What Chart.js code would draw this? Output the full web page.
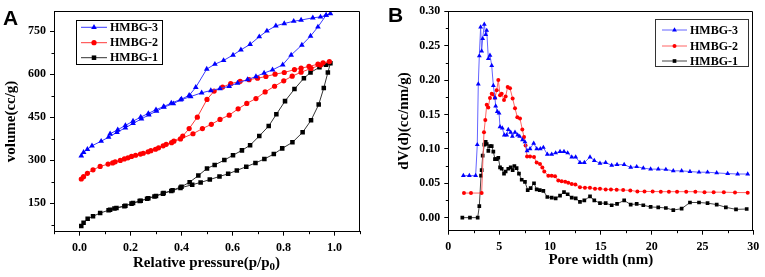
<!DOCTYPE html>
<html><head><meta charset="utf-8">
<script src="https://cdn.jsdelivr.net/npm/chart.js@4"></script>
<style>
html,body{margin:0;padding:0;background:#fff;}
#wrap{position:relative;width:765px;height:277px;overflow:hidden;background:#fff;}
.pane{position:absolute;top:0;height:277px;}
</style></head><body>
<div id="wrap">
<div class="pane" style="left:0;width:383px"><canvas id="ca" width="383" height="277"></canvas></div>
<div class="pane" style="left:383px;width:382px"><canvas id="cb" width="382" height="277"></canvas></div>
</div>
<script>
// ---------- Panel A: N2 isotherms (adsorption then desorption) ----------
const seriesNames = ['HMBG-3', 'HMBG-2', 'HMBG-1'];

const hmbg3P = [0.007,0.016,0.031,0.049,0.085,0.114,0.147,0.18,0.21,0.243,0.272,0.302,0.331,0.368,0.396,0.436,0.479,0.515,0.551,0.587,0.62,0.659,0.692,0.724,0.757,0.797,0.83,0.872,0.906,0.935,0.967,0.984,
  0.967,0.945,0.915,0.869,0.84,0.803,0.77,0.735,0.705,0.669,0.633,0.602,0.565,0.531,0.499,0.456,0.43,0.4,0.36,0.33,0.3,0.27,0.24,0.21,0.18,0.15,0.12];
const hmbg3V = [315,327,338,350,366,380,397,413,428,444,458,471,485,497,510,522,535,543,550,558,569,581,592,604,615,633,667,702,733,765,806,812,
  806,800,797,789,785,777,769,751,731,704,685,667,648,635,618,554,526,513,499,487,476,463,450,436,421,406,392];

const hmbg2P = [0.007,0.016,0.031,0.053,0.081,0.112,0.14,0.176,0.204,0.239,0.269,0.298,0.328,0.361,0.396,0.445,0.482,0.517,0.551,0.587,0.622,0.656,0.692,0.728,0.765,0.801,0.834,0.869,0.908,0.945,0.98,
  0.955,0.935,0.9,0.869,0.843,0.803,0.767,0.731,0.698,0.665,0.63,0.593,0.561,0.528,0.5,0.462,0.43,0.405,0.37,0.34,0.31,0.28,0.25,0.22,0.19,0.16,0.13];
const hmbg2V = [234,242,254,266,278,286,294,304,313,321,329,338,350,361,374,392,410,425,442,457,479,498,515,538,558,577,593,607,620,632,644,
  640,635,627,621,616,606,600,592,586,581,575,567,555,541,512,450,410,384,366,355,343,333,324,317,308,299,290];

const hmbg1P = [0.007,0.016,0.032,0.053,0.081,0.114,0.137,0.176,0.204,0.236,0.265,0.294,0.327,0.36,0.396,0.442,0.475,0.511,0.549,0.583,0.617,0.654,0.69,0.725,0.762,0.795,0.835,0.875,0.908,0.938,0.958,0.974,0.984,
  0.967,0.941,0.906,0.88,0.843,0.806,0.772,0.742,0.705,0.669,0.637,0.602,0.568,0.53,0.5,0.466,0.432,0.4,0.365,0.33,0.3,0.27,0.24,0.21,0.18,0.145,0.12];
const hmbg1V = [70,81,95,104,115,125,131,139,148,157,165,173,183,192,203,214,222,232,243,252,264,277,290,304,321,341,362,397,439,494,552,606,638,
  633,624,606,586,548,506,460,419,384,352,334,317,300,283,271,246,223,207,195,185,175,167,158,150,141,133,127];

const isoXTicks = [0.0, 0.2, 0.4, 0.6, 0.8, 1.0];
const isoYTicks = [150, 300, 450, 600, 750];
const isoXMinor = [-0.1, 0.1, 0.3, 0.5, 0.7, 0.9, 1.1];
const isoYMinor = [75, 225, 375, 525, 675];

// ---------- Panel B: pore size distribution ----------
const pore3W = [1.48,2.07,2.69,2.85,2.95,3.05,3.18,3.28,3.38,3.54,3.68,3.78,3.94,4.1,4.27,4.43,4.59,4.66,4.82,4.99,5.09,5.31,5.51,5.74,5.9,6.14,6.3,6.56,6.82,7.02,7.3,7.54,7.75,8.04,8.4,8.7,9.05,9.35,9.74,10.17,10.56,10.99,11.38,11.74,12.14,12.53,12.95,13.38,13.94,14.36,14.92,15.48,16.07,16.6,17.3,17.94,18.53,19.18,19.9,20.65,21.4,22.13,22.95,23.77,24.66,25.5,26.4,27.48,28.46,29.45];
const pore3V = [0.061,0.061,0.061,0.106,0.194,0.235,0.277,0.242,0.26,0.281,0.266,0.272,0.231,0.236,0.221,0.192,0.174,0.162,0.154,0.152,0.132,0.13,0.12,0.12,0.128,0.124,0.118,0.124,0.12,0.118,0.113,0.11,0.097,0.1,0.108,0.1,0.1,0.102,0.092,0.092,0.094,0.096,0.096,0.094,0.088,0.088,0.08,0.08,0.088,0.083,0.079,0.08,0.076,0.077,0.077,0.073,0.074,0.072,0.0705,0.0705,0.07,0.068,0.068,0.067,0.066,0.066,0.065,0.064,0.0634,0.0634];

const pore2W = [1.54,2.23,3.28,3.51,3.64,3.78,3.93,4.1,4.27,4.43,4.59,4.76,4.92,5.09,5.25,5.48,5.64,5.84,6.07,6.33,6.56,6.79,7.05,7.28,7.45,7.6,7.75,8.04,8.43,8.69,9.02,9.25,9.44,9.84,10.17,10.5,10.82,11.15,11.5,11.8,12.14,12.5,12.95,13.44,13.93,14.43,14.92,15.48,16.0,16.56,17.2,17.9,18.6,19.3,20.1,20.9,21.7,22.5,23.4,24.3,25.2,26.1,27.1,28.2,29.45];
const pore2V = [0.0357,0.0357,0.0357,0.124,0.142,0.164,0.16,0.174,0.18,0.179,0.174,0.185,0.2,0.178,0.18,0.171,0.176,0.19,0.188,0.173,0.159,0.146,0.144,0.128,0.117,0.105,0.089,0.089,0.088,0.08,0.078,0.073,0.067,0.061,0.061,0.06,0.054,0.053,0.052,0.0506,0.049,0.048,0.0443,0.0436,0.0434,0.042,0.042,0.041,0.041,0.0405,0.04,0.0396,0.038,0.038,0.038,0.0377,0.0377,0.0377,0.0377,0.0377,0.037,0.037,0.037,0.0365,0.0363];

const pore1W = [1.38,2.13,2.89,3.05,3.22,3.28,3.38,3.54,3.68,3.78,3.94,4.1,4.27,4.43,4.59,4.76,4.92,5.09,5.25,5.48,5.64,5.9,6.14,6.33,6.5,6.72,6.95,7.22,7.54,7.81,8.1,8.43,8.69,9.0,9.35,9.74,10.17,10.56,10.99,11.38,11.74,12.14,12.53,12.95,13.38,13.94,14.36,14.92,15.48,16.07,16.6,17.3,17.94,18.53,19.18,19.9,20.65,21.4,22.13,22.95,23.77,24.66,25.5,26.4,27.3,28.3,29.35];
const pore1V = [0,0,0,0.0167,0.061,0.069,0.09,0.106,0.11,0.107,0.097,0.104,0.104,0.096,0.085,0.085,0.087,0.073,0.071,0.064,0.067,0.071,0.073,0.069,0.075,0.072,0.064,0.055,0.052,0.04,0.043,0.05,0.041,0.04,0.039,0.03,0.029,0.028,0.032,0.037,0.034,0.029,0.028,0.023,0.025,0.031,0.025,0.021,0.021,0.018,0.02,0.025,0.019,0.02,0.018,0.0155,0.015,0.014,0.011,0.013,0.022,0.022,0.021,0.019,0.015,0.012,0.0125];

const poreXTicks = [0, 5, 10, 15, 20, 25, 30];
const poreYTicks = [0.00, 0.05, 0.10, 0.15, 0.20, 0.25, 0.30];
const poreXMinor = [2.5, 7.5, 12.5, 17.5, 22.5, 27.5];
const poreYMinor = [0.025, 0.075, 0.125, 0.175, 0.225, 0.275];

// ---------- helpers ----------
const zip = (xs, ys) => xs.map((x, i) => ({x, y: ys[i]}));
const SERIF = '"Liberation Serif", "Times New Roman", serif';
const tickFont = {family: SERIF, size: 12, weight: 'bold'};
const titleFont = {family: SERIF, size: 15, weight: 'bold'};

function drawMarker(ctx, style, x, y, r, color) {
  ctx.save();
  ctx.fillStyle = color;
  ctx.beginPath();
  if (style === 'triangle') {
    ctx.moveTo(x, y - r);
    ctx.lineTo(x + r * 0.866, y + r * 0.5);
    ctx.lineTo(x - r * 0.866, y + r * 0.5);
    ctx.closePath();
  } else if (style === 'rect') {
    const s = r * Math.SQRT1_2;
    ctx.rect(x - s, y - s, 2 * s, 2 * s);
  } else {
    ctx.arc(x, y, r, 0, Math.PI * 2);
  }
  ctx.fill();
  ctx.restore();
}

const decorPlugin = {
  id: 'decor',
  afterDraw(chart, args, o) {
    const ctx = chart.ctx, ca = chart.chartArea;
    const xs = chart.scales.x, ys = chart.scales.y;
    ctx.save();
    ctx.strokeStyle = '#000';
    ctx.lineWidth = 1;
    // frame (top + right)
    const L = Math.round(ca.left) + 0.5, R = Math.round(ca.right) - 0.5;
    const T = Math.round(ca.top) + 0.5, B = Math.round(ca.bottom) - 0.5;
    ctx.beginPath();
    ctx.moveTo(L, T); ctx.lineTo(R, T); ctx.lineTo(R, B);
    ctx.stroke();
    // minor ticks
    ctx.beginPath();
    (o.minorX || []).forEach(v => {
      const px = Math.round(xs.getPixelForValue(v)) + 0.5;
      ctx.moveTo(px, ca.bottom); ctx.lineTo(px, ca.bottom + 2.5);
    });
    (o.minorY || []).forEach(v => {
      const py = Math.round(ys.getPixelForValue(v)) + 0.5;
      ctx.moveTo(ca.left, py); ctx.lineTo(ca.left - 2.5, py);
    });
    ctx.stroke();
    // legend box
    const lg = o.legend;
    if (lg) {
      ctx.strokeStyle = lg.border;
      ctx.strokeRect(Math.round(lg.x) + 0.5, Math.round(lg.y) + 0.5, lg.w, lg.h);
      chart.data.datasets.forEach((ds, i) => {
        const ry = lg.rows[i];
        ctx.strokeStyle = ds.borderColor;
        ctx.lineWidth = 1;
        ctx.beginPath(); ctx.moveTo(lg.l0, ry); ctx.lineTo(lg.l1, ry); ctx.stroke();
        drawMarker(ctx, ds.pointStyle, (lg.l0 + lg.l1) / 2, ry, ds.pointRadius, ds.pointBackgroundColor);
        ctx.fillStyle = '#000';
        ctx.font = 'bold 12px ' + SERIF;
        ctx.textBaseline = 'middle';
        ctx.textAlign = 'left';
        ctx.fillText(ds.label, lg.tx, ry + 0.5);
      });
    }
    // panel letter
    if (o.letter) {
      ctx.fillStyle = '#000';
      ctx.font = 'bold 21px "Liberation Sans", Arial, sans-serif';
      ctx.textBaseline = 'alphabetic';
      ctx.textAlign = 'left';
      ctx.fillText(o.letter.text, o.letter.x, o.letter.y);
    }
    // x title with subscript
    if (o.xTitle) {
      const t = o.xTitle;
      ctx.fillStyle = '#000';
      ctx.textBaseline = 'alphabetic';
      ctx.textAlign = 'left';
      const big = 'bold 15px ' + SERIF, small = 'bold 11px ' + SERIF;
      ctx.font = big; const w1 = ctx.measureText(t.main).width; const w3 = ctx.measureText(t.tail).width;
      ctx.font = small; const w2 = ctx.measureText(t.sub).width;
      let x = t.cx - (w1 + w2 + w3) / 2;
      ctx.font = big; ctx.fillText(t.main, x, t.y); x += w1;
      ctx.font = small; ctx.fillText(t.sub, x, t.y + 3.5); x += w2;
      ctx.font = big; ctx.fillText(t.tail, x, t.y);
    }
    ctx.restore();
  }
};

function mkDataset(label, pts, color, lineColor, style, r) {
  return {
    label, data: pts, showLine: true, borderColor: lineColor, borderWidth: 1,
    pointStyle: style, pointRadius: r, pointBackgroundColor: color, pointBorderColor: color,
    pointBorderWidth: 0, pointHoverRadius: r, tension: 0, fill: false
  };
}

function axis(min, max, ticksArr, fmt, fitProp, fitVal, pad, title) {
  return {
    type: 'linear', min, max,
    afterBuildTicks: s => { s.ticks = ticksArr.map(v => ({value: v})); },
    afterFit: s => { s[fitProp] = fitVal; },
    ticks: {callback: v => fmt(v), font: tickFont, color: '#000', padding: pad, autoSkip: false, maxRotation: 0, minRotation: 0},
    grid: {display: true, drawOnChartArea: false, drawTicks: true, tickLength: 4, color: '#000', tickColor: '#000', lineWidth: 1},
    border: {display: true, color: '#000', width: 1},
    title: title || {display: false}
  };
}

Chart.register(decorPlugin);

// ---------- Chart A ----------
new Chart(document.getElementById('ca'), {
  type: 'scatter',
  data: {datasets: [
    mkDataset(seriesNames[0], zip(hmbg3P, hmbg3V), '#0000ff', '#3a3aff', 'triangle', 3.3),
    mkDataset(seriesNames[1], zip(hmbg2P, hmbg2V), '#ff0000', '#ff3a3a', 'circle', 2.6),
    mkDataset(seriesNames[2], zip(hmbg1P, hmbg1V), '#000000', '#333333', 'rect', 3.2)
  ]},
  options: {
    responsive: false, animation: false, devicePixelRatio: 1,
    layout: {padding: {left: 0, top: 9, right: 23, bottom: 0}},
    plugins: {
      legend: {display: false}, tooltip: {enabled: false},
      decor: {
        minorX: isoXMinor, minorY: isoYMinor,
        legend: {x: 76, y: 20, w: 86, h: 44, rows: [27.3, 42.7, 57.7], l0: 81, l1: 107, tx: 110, border: '#000'},
        letter: {text: 'A', x: 3, y: 25},
        xTitle: {main: 'Relative pressure(p/p', sub: '0', tail: ')', cx: 206.5, y: 266.5}
      }
    },
    scales: {
      x: axis(-0.1, 1.1, isoXTicks, v => v.toFixed(1), 'height', 45.3, 5),
      y: axis(50, 820, isoYTicks, v => String(v), 'width', 54, 4,
        {display: true, text: 'volume(cc/g)', font: titleFont, color: '#000', padding: {top: 2, bottom: 0}})
    }
  }
});

// ---------- Chart B ----------
new Chart(document.getElementById('cb'), {
  type: 'scatter',
  data: {datasets: [
    mkDataset(seriesNames[0], zip(pore3W, pore3V), '#0000ff', '#6464ff', 'triangle', 2.8),
    mkDataset(seriesNames[1], zip(pore2W, pore2V), '#ff0000', '#ff6464', 'circle', 2.0),
    mkDataset(seriesNames[2], zip(pore1W, pore1V), '#000000', '#444444', 'rect', 2.6)
  ]},
  options: {
    responsive: false, animation: false, devicePixelRatio: 1,
    layout: {padding: {left: 0, top: 8, right: 11.7, bottom: 0}},
    plugins: {
      legend: {display: false}, tooltip: {enabled: false},
      decor: {
        minorX: poreXMinor, minorY: poreYMinor,
        legend: {x: 272, y: 19, w: 93, h: 47, rows: [30, 46, 61], l0: 279, l1: 304, tx: 307, border: '#333'},
        letter: {text: 'B', x: 5, y: 21.7}
      }
    },
    scales: {
      x: axis(0, 30, poreXTicks, v => String(v), 'height', 46.3, 5,
        {display: true, text: 'Pore width (nm)', font: titleFont, color: '#000', padding: {top: 0, bottom: 8}}),
      y: axis(-0.019, 0.30, poreYTicks, v => v.toFixed(2), 'width', 65.3, 4,
        {display: true, text: 'dV(d)(cc/nm/g)', font: titleFont, color: '#000', padding: {top: 12, bottom: 0}})
    }
  }
});
</script>
</body></html>
